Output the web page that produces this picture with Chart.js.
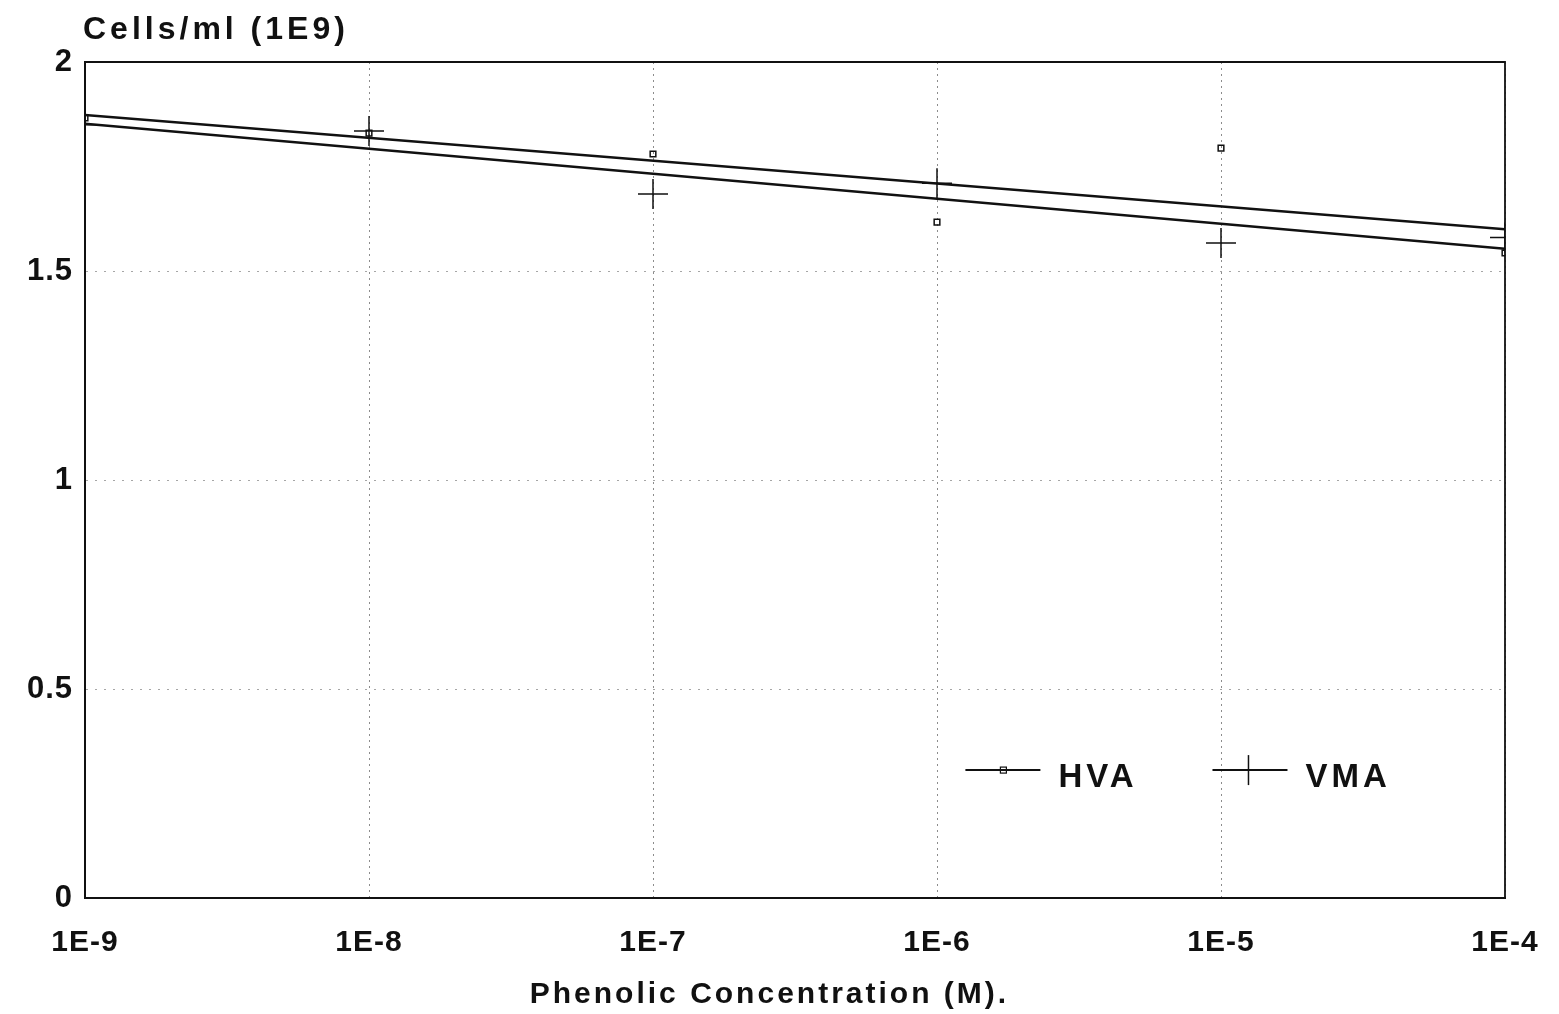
<!DOCTYPE html>
<html>
<head>
<meta charset="utf-8">
<script src="https://cdn.jsdelivr.net/npm/chart.js@4.4.0/dist/chart.umd.min.js"></script>
<style>
  html, body { margin: 0; padding: 0; background: #fff; }
  #wrap { width: 1559px; height: 1014px; }
</style>
</head>
<body>
<div id="wrap"><canvas id="chart" width="1559" height="1014"></canvas></div>
<script>
// concentrations (M) and their tick labels
const concentrations = [1e-9, 1e-8, 1e-7, 1e-6, 1e-5, 1e-4];
const tickLabels = ['1E-9', '1E-8', '1E-7', '1E-6', '1E-5', '1E-4'];
const yTicks = [0, 0.5, 1, 1.5, 2];

// measured cells/ml (1E9)
const hvaValues = [1.866, 1.83, 1.78, 1.617, 1.794, 1.543];
const vmaValues = [1.85, 1.835, 1.684, 1.71, 1.567, 1.58];

// fitted lines, at the two ends of the range
const fitX = [1e-9, 1e-4];
const hvaFit = [1.873, 1.600];
const vmaFit = [1.852, 1.553];

const FONT = '"Liberation Sans", Arial, sans-serif';

const toPoints = (xs, ys) => xs.map((x, i) => ({ x: x, y: ys[i] }));

// letter spacing like the old plotter font
const spacing = {
  id: 'spacing',
  beforeUpdate(chart) { chart.ctx.letterSpacing = '1px'; },
  beforeDraw(chart) { chart.ctx.letterSpacing = '1px'; }
};

// titles and the legend
const extras = {
  id: 'extras',
  afterDraw(chart) {
    const ctx = chart.ctx;
    const a = chart.chartArea;
    const w = a.right - a.left, h = a.bottom - a.top;
    ctx.save();
    ctx.fillStyle = '#111';
    ctx.letterSpacing = '4px';
    ctx.font = '600 32px ' + FONT;
    ctx.textBaseline = 'middle';
    ctx.textAlign = 'left';
    ctx.fillText('Cells/ml (1E9)', a.left - 2, 30);

    // x title
    ctx.textAlign = 'center';
    ctx.letterSpacing = '3px';
    ctx.font = '600 30px ' + FONT;
    ctx.fillText('Phenolic Concentration (M).', a.left + w * 0.482, 995);

    // legend
    ctx.textAlign = 'left';
    const ly = a.top + h * 0.847;
    ctx.strokeStyle = '#111';
    ctx.lineWidth = 2;
    // HVA
    let x0 = a.left + w * 0.62;
    ctx.beginPath(); ctx.moveTo(x0, ly); ctx.lineTo(x0 + 75, ly); ctx.stroke();
    ctx.lineWidth = 1.2;
    ctx.strokeRect(x0 + 35, ly - 3, 6, 6);
    ctx.font = '600 33px ' + FONT;
    ctx.letterSpacing = '4px';
    ctx.fillText('HVA', x0 + 93, ly + 8);
    // VMA
    x0 = a.left + w * 0.794;
    ctx.lineWidth = 2;
    ctx.beginPath(); ctx.moveTo(x0, ly); ctx.lineTo(x0 + 75, ly); ctx.stroke();
    ctx.lineWidth = 1.5;
    ctx.beginPath(); ctx.moveTo(x0 + 36, ly - 15); ctx.lineTo(x0 + 36, ly + 15); ctx.stroke();
    ctx.fillText('VMA', x0 + 93, ly + 8);
    ctx.restore();
  }
};

new Chart(document.getElementById('chart'), {
  type: 'scatter',
  data: {
    datasets: [
      {
        label: 'HVA',
        data: toPoints(concentrations, hvaValues),
        pointStyle: 'rect',
        pointRadius: 4,
        pointBorderWidth: 1.5,
        borderColor: '#111',
        backgroundColor: 'rgba(0,0,0,0)',
        showLine: false
      },
      {
        label: 'VMA',
        data: toPoints(concentrations, vmaValues),
        pointStyle: 'cross',
        pointRadius: 15,
        pointBorderWidth: 1.5,
        borderColor: '#111',
        showLine: false
      },
      {
        label: 'HVA fit',
        data: toPoints(fitX, hvaFit),
        showLine: true,
        pointRadius: 0,
        borderColor: '#111',
        borderWidth: 2.5
      },
      {
        label: 'VMA fit',
        data: toPoints(fitX, vmaFit),
        showLine: true,
        pointRadius: 0,
        borderColor: '#111',
        borderWidth: 2.5
      }
    ]
  },
  options: {
    responsive: false,
    animation: false,
    devicePixelRatio: 1,
    layout: { padding: { top: 62, right: 54, left: 0, bottom: 0 } },
    plugins: {
      legend: { display: false },
      tooltip: { enabled: false }
    },
    scales: {
      x: {
        type: 'logarithmic',
        min: 1e-9,
        max: 1e-4,
        afterBuildTicks(scale) {
          scale.ticks = concentrations.map(v => ({ value: v }));
        },
        afterFit(scale) {
          scale.height = 116;
          scale.paddingLeft = 0;
          scale.paddingRight = 0;
        },
        ticks: {
          color: '#111',
          font: { family: FONT, size: 30, weight: '600' },
          padding: 27,
          maxRotation: 0,
          autoSkip: false,
          callback: (v) => tickLabels[concentrations.findIndex(c => Math.abs(Math.log10(c) - Math.log10(v)) < 1e-6)]
        },
        grid: {
          color: 'rgba(0,0,0,0.45)',
          lineWidth: 1,
          drawTicks: false
        },
        border: { display: true, color: '#111', width: 2, dash: [2, 4] }
      },
      y: {
        min: 0,
        max: 2,
        afterBuildTicks(scale) {
          scale.ticks = yTicks.map(v => ({ value: v }));
        },
        afterFit(scale) {
          scale.width = 85;
          scale.paddingTop = 0;
          scale.paddingBottom = 0;
        },
        ticks: {
          color: '#111',
          font: { family: FONT, size: 31, weight: '600' },
          padding: 12,
          callback: (v) => String(v)
        },
        grid: {
          color: 'rgba(0,0,0,0.35)',
          lineWidth: 1,
          drawTicks: false
        },
        border: { display: true, color: '#111', width: 2, dash: [2, 7] }
      }
    }
  },
  plugins: [spacing, extras, {
    id: 'frame',
    beforeDatasetsDraw(chart) {
      const a = chart.chartArea, ctx = chart.ctx;
      ctx.save();
      ctx.strokeStyle = '#111';
      ctx.lineWidth = 1.8;
      ctx.beginPath();
      ctx.moveTo(a.left, a.top); ctx.lineTo(a.right, a.top);
      ctx.lineTo(a.right, a.bottom); ctx.lineTo(a.left, a.bottom);
      ctx.lineTo(a.left, a.top);
      ctx.stroke();
      ctx.restore();
    }
  }]
});
</script>
</body>
</html>
